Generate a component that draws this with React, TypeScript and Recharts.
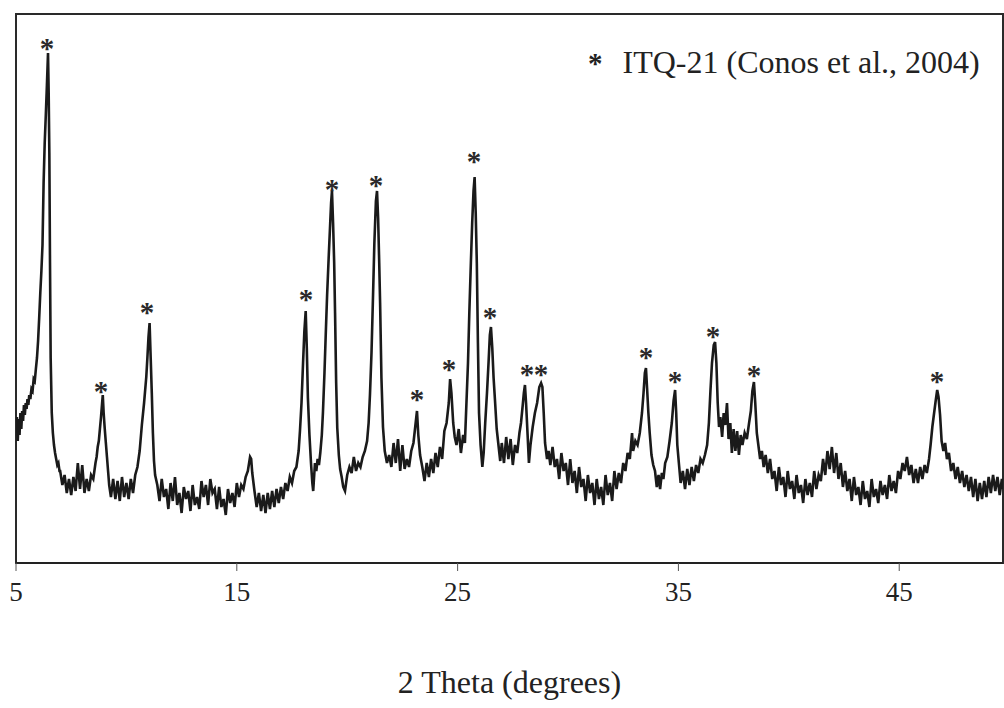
import { LineChart, Line, XAxis, YAxis, ReferenceArea, Legend } from 'recharts';

// 2-theta (deg), intensity (arb. units)
const scanLow: [number, number][] = [
  [5.0,130],[5.04,146],[5.08,122],[5.12,144],[5.16,128],[5.2,150],[5.24,134],[5.28,152],[5.32,142],[5.36,158],
  [5.4,148],[5.44,160],[5.48,154],[5.52,164],[5.56,158],[5.6,168],[5.65,164],[5.7,174],[5.75,172],[5.8,184],
  [5.85,182],[5.9,194],[5.95,205],[6.0,222],[6.05,245],[6.1,270],[6.15,292],[6.2,318],[6.25,380],[6.3,420],
  [6.35,448],[6.4,478],[6.45,510],[6.48,470],[6.51,410],[6.54,300],[6.57,205],[6.62,150],[6.67,130],[6.72,118],
  [6.77,110],[6.82,104],[6.87,98],[6.92,100],[6.97,92],
  [7.0,92],[7.1,78],[7.2,88],[7.3,70],[7.4,84],[7.5,68],[7.6,86],[7.7,72],[7.8,100],[7.9,74],[8.0,98],[8.1,70],
  [8.2,84],[8.3,72],[8.4,88],[8.5,84],[8.6,100],[8.65,106],[8.7,116],[8.75,122],[8.8,134],[8.85,146],[8.9,160],
  [8.93,168],[8.97,150],[9.02,134],[9.07,120],[9.12,106],[9.17,92],[9.22,78],
  [9.3,66],[9.4,84],[9.5,64],[9.6,82],[9.7,62],[9.8,86],[9.9,66],[10.0,80],[10.1,64],[10.2,84],[10.3,70],[10.4,88],
];

const scanMidA: [number, number][] = [
  [10.5,96],[10.6,112],[10.7,138],[10.8,160],[10.9,186],[10.95,205],[11.0,226],[11.05,240],[11.1,205],[11.15,170],
  [11.2,130],[11.25,102],[11.3,88],[11.4,78],
  [11.5,62],[11.6,84],[11.7,66],[11.8,74],[11.9,54],[12.0,80],[12.1,62],[12.2,86],[12.3,58],[12.4,70],[12.5,50],
  [12.6,76],[12.7,64],[12.8,72],[12.9,52],[13.0,78],[13.1,58],[13.2,66],[13.3,54],[13.4,82],[13.5,66],[13.6,78],
  [13.7,58],[13.8,84],[13.9,70],[14.0,74],[14.1,54],[14.2,76],[14.3,56],[14.4,64],[14.5,48],[14.6,74],[14.7,60],
  [14.8,70],[14.9,56],[15.0,80],[15.1,66],[15.2,78],
  [15.3,74],[15.4,86],[15.5,92],[15.6,106],[15.65,104],[15.7,90],[15.8,72],
  [15.9,56],[16.0,70],[16.1,52],[16.2,68],[16.3,50],[16.4,70],[16.5,54],[16.6,72],[16.7,56],[16.8,74],[16.9,60],
  [17.0,76],[17.1,64],[17.2,80],[17.3,72],[17.4,86],[17.5,80],[17.6,92],[17.7,96],[17.8,112],
];

const scanMidB: [number, number][] = [
  [17.86,132],[17.93,160],[18.0,200],[18.06,232],[18.12,252],[18.17,215],[18.22,165],[18.29,128],[18.36,100],
  [18.42,80],[18.46,72],[18.54,100],[18.6,92],[18.66,104],[18.72,98],[18.78,110],
  [18.85,128],[18.9,150],[18.97,190],[19.03,230],[19.09,268],[19.16,305],[19.22,335],[19.27,360],[19.31,372],
  [19.36,340],[19.41,300],[19.45,250],[19.5,180],[19.55,135],[19.62,108],[19.68,94],[19.75,86],[19.82,76],[19.9,72],
  [20.0,88],[20.1,96],[20.2,90],[20.3,106],[20.4,92],[20.5,100],[20.6,96],[20.7,106],[20.8,112],
  [20.9,122],[20.97,140],[21.03,168],[21.1,210],[21.17,268],[21.23,320],[21.3,362],[21.35,372],[21.4,345],
  [21.45,300],[21.49,260],[21.55,185],[21.62,136],[21.7,112],[21.8,100],[21.9,108],
  [22.0,96],[22.1,120],[22.2,100],[22.3,124],[22.4,92],[22.5,118],[22.6,94],[22.7,104],[22.8,96],[22.9,112],
  [23.0,120],[23.1,140],[23.16,152],[23.22,128],[23.3,108],
  [23.4,96],[23.5,82],[23.6,100],[23.7,86],[23.8,104],[23.9,90],[24.0,110],[24.1,96],[24.2,116],[24.3,104],
];

const scanMidC: [number, number][] = [
  [24.4,132],[24.5,140],[24.6,160],[24.66,184],[24.72,170],[24.8,140],[24.87,126],[24.95,118],[25.05,134],
  [25.15,110],[25.25,128],[25.33,120],
  [25.4,160],[25.47,200],[25.53,250],[25.6,300],[25.66,340],[25.72,372],[25.77,386],[25.82,350],[25.87,300],
  [25.92,220],[25.97,150],[26.04,118],[26.12,96],[26.18,110],
  [26.25,140],[26.33,170],[26.4,200],[26.46,228],[26.51,236],[26.57,215],[26.63,185],[26.7,160],[26.77,134],
  [26.85,118],[26.93,102],[27.0,120],
  [27.1,100],[27.2,126],[27.3,104],[27.4,124],[27.5,98],[27.6,118],[27.7,110],[27.8,130],
  [27.87,140],[27.95,158],[28.0,170],[28.05,178],[28.1,160],[28.17,128],[28.23,100],
  [28.3,118],[28.4,136],[28.5,150],[28.6,160],[28.7,176],[28.78,180],[28.84,176],[28.9,150],[28.96,120],
  [29.05,104],[29.12,112],
];

const scanHighA: [number, number][] = [
  [29.2,98],[29.3,116],[29.4,96],[29.5,104],[29.6,84],[29.7,110],[29.8,92],[29.9,100],[30.0,78],[30.1,104],
  [30.2,80],[30.3,92],[30.4,70],[30.5,96],[30.6,76],[30.7,84],[30.8,62],[30.9,88],[31.0,70],[31.1,80],[31.2,58],
  [31.3,84],[31.4,64],[31.5,76],[31.6,58],[31.7,88],[31.8,68],[31.9,80],[32.0,62],[32.1,92],[32.2,74],[32.3,90],
  [32.4,80],[32.5,100],[32.6,92],[32.7,110],[32.8,104],[32.9,130],[32.95,112],[33.05,122],[33.15,118],
  [33.25,130],[33.35,150],[33.42,170],[33.48,190],[33.53,195],[33.58,175],[33.64,150],[33.7,130],[33.78,108],
  [33.86,98],[33.94,92],[34.02,76],[34.1,88],[34.17,74],[34.25,90],[34.32,84],[34.4,100],
  [34.5,106],[34.6,122],[34.7,140],[34.78,162],[34.85,173],[34.9,150],[34.95,118],[35.02,100],[35.1,80],
  [35.2,92],[35.3,74],[35.4,94],[35.5,78],[35.6,96],[35.7,82],[35.8,98],[35.9,90],[36.0,104],
  [36.1,100],[36.2,108],[36.3,118],[36.38,140],[36.45,172],[36.52,200],[36.6,218],[36.66,221],[36.72,200],
  [36.78,160],[36.84,136],[36.9,146],[36.98,126],[37.05,150],[37.12,138],[37.2,160],[37.27,124],[37.35,140],
  [37.42,110],[37.5,134],[37.58,112],[37.66,132],[37.74,108],[37.82,128],[37.9,118],[38.0,130],[38.1,124],
];

const scanHighB: [number, number][] = [
  [38.2,140],[38.28,152],[38.35,172],[38.42,181],[38.48,160],[38.55,130],[38.62,118],[38.7,104],[38.78,112],
  [38.86,96],[38.95,108],[39.05,90],[39.15,104],[39.25,84],[39.35,92],[39.45,72],[39.55,96],[39.65,78],
  [39.75,86],[39.85,66],[39.95,92],[40.05,74],[40.15,82],[40.25,64],[40.35,88],[40.45,70],[40.55,78],
  [40.65,60],[40.75,84],[40.85,68],[40.95,80],[41.05,66],[41.15,92],[41.25,74],[41.35,88],
  [41.45,82],[41.55,104],[41.65,88],[41.75,112],[41.85,94],[41.95,116],[42.05,90],[42.15,110],[42.25,84],
  [42.35,100],[42.45,76],[42.55,92],
  [42.65,72],[42.75,84],[42.85,62],[42.95,86],[43.05,68],[43.15,76],[43.25,58],[43.35,82],[43.45,64],[43.55,72],
  [43.65,56],[43.75,84],[43.85,66],[43.95,74],[44.05,60],[44.15,82],[44.25,68],[44.35,78],[44.45,64],[44.55,88],
  [44.65,72],[44.75,82],[44.85,70],[44.95,92],
  [45.05,84],[45.15,100],[45.25,92],[45.35,106],[45.45,88],[45.55,98],[45.65,80],[45.75,94],[45.85,80],
  [45.95,96],[46.05,84],[46.15,98],[46.25,90],[46.35,104],
  [46.42,118],[46.5,136],[46.58,150],[46.65,162],[46.72,173],[46.78,166],[46.85,148],[46.92,122],[47.0,112],
  [47.08,120],[47.16,104],[47.25,110],[47.35,92],[47.45,100],[47.55,84],[47.65,96],[47.75,80],[47.85,92],
  [47.95,76],[48.05,88],[48.15,72],[48.25,86],[48.35,66],[48.45,84],[48.55,62],[48.65,80],[48.75,64],
  [48.85,82],[48.95,66],[49.05,86],[49.15,70],[49.25,88],[49.35,72],[49.45,86],[49.55,68],[49.65,84],[49.7,74],
];

// peaks marked as ITQ-21 reflections: 2-theta, height of the asterisk
const starredPeaks: [number, number][] = [
  [6.4,519],[8.85,176],[10.93,255],[18.13,268],[19.31,378],[21.3,382],[23.16,168],[24.61,198],[25.74,406],
  [26.47,250],[28.14,193],[28.78,193],[33.53,210],[34.85,186],[36.57,231],[38.42,192],[46.71,186],
];

const xTicks = [5, 15, 25, 35, 45];

const SERIF = '"Liberation Serif", "Times New Roman", serif';

const trace = [...scanLow, ...scanMidA, ...scanMidB, ...scanMidC, ...scanHighA, ...scanHighB]
  .map(([theta, I]) => ({ theta, I }));
const stars = starredPeaks.map(([theta, I]) => ({ theta, I }));

const Star = (props: any) => {
  const { cx, cy, index } = props;
  if (cx == null || cy == null) return null;
  return (
    <text key={`star-${index}`} x={cx} y={cy + 14} textAnchor="middle" fontFamily={SERIF}
      fontSize={29} fontWeight="bold" fill="#2a2a2a">*</text>
  );
};

const LegendBox = () => (
  <div style={{ fontFamily: SERIF, fontSize: 32, lineHeight: '32px', color: '#222', whiteSpace: 'nowrap' }}>
    <span style={{ fontWeight: 'bold', fontSize: 29, marginRight: 20 }}>*</span>
    ITQ-21 (Conos et al., 2004)
  </div>
);

export default function App() {
  return (
    <div style={{ position: 'absolute', left: 0, top: 0, width: 1004, height: 708, overflow: 'hidden', background: '#fff' }}>
      <LineChart width={1004} height={708} margin={{ top: 14, right: 1, bottom: 0, left: 16 }}>
        <XAxis
          dataKey="theta"
          type="number"
          domain={[5, 49.7]}
          allowDataOverflow
          ticks={xTicks}
          interval={0}
          height={145}
          tickSize={8}
          tickMargin={11}
          axisLine={{ stroke: '#222', strokeWidth: 2 }}
          tickLine={{ stroke: '#555' }}
          tick={{ fontSize: 27, fill: '#222', fontFamily: SERIF }}
          label={{ value: '2 Theta (degrees)', position: 'insideBottom', offset: 15, fontSize: 32, fill: '#222', fontFamily: SERIF }}
        />
        <YAxis dataKey="I" type="number" domain={[0, 549]} allowDataOverflow hide />
        <ReferenceArea x1={5} x2={49.7} y1={0} y2={549} fill="none" stroke="#2a2a2a" strokeWidth={2} ifOverflow="visible" />
        <Line
          data={trace}
          dataKey="I"
          type="linear"
          stroke="#1a1a1a"
          strokeWidth={2.6}
          dot={false}
          activeDot={false}
          legendType="none"
          isAnimationActive={false}
        />
        <Line
          data={stars}
          dataKey="I"
          stroke="none"
          dot={Star}
          activeDot={false}
          legendType="none"
          isAnimationActive={false}
        />
        <Legend
          layout="horizontal"
          verticalAlign="middle"
          align="center"
          wrapperStyle={{ top: 46, left: 588, width: 414, height: 36 }}
          content={LegendBox}
        />
      </LineChart>
    </div>
  );
}
